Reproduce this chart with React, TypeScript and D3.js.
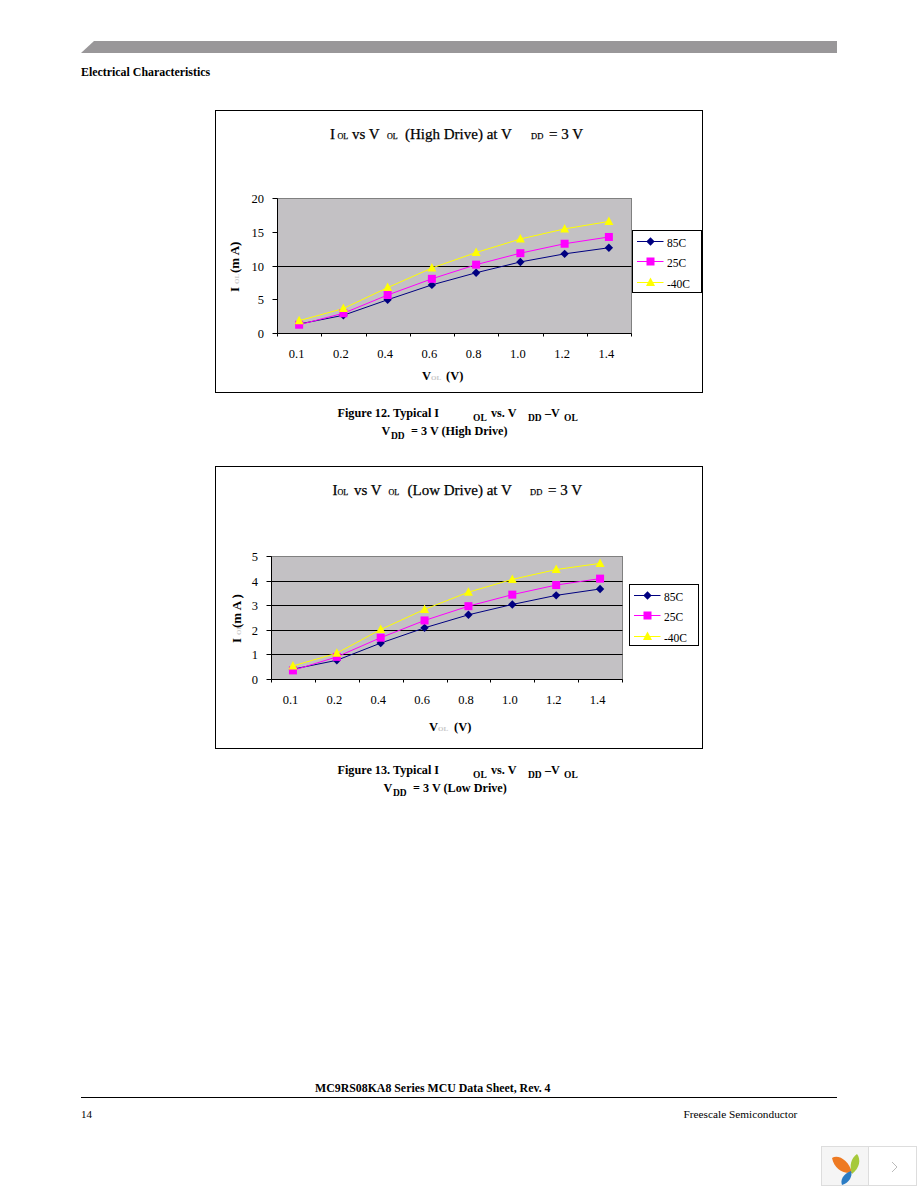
import React from "react";
import * as d3 from "d3";

const categories = ["0.1", "0.2", "0.4", "0.6", "0.8", "1.0", "1.2", "1.4"];
const seriesNames = ["85C", "25C", "-40C"];
const high85 = [1.4, 2.7, 5.0, 7.2, 9.0, 10.6, 11.8, 12.7];
const high25 = [1.3, 3.0, 5.7, 8.1, 10.2, 11.9, 13.3, 14.3];
const highM40 = [1.9, 3.7, 6.8, 9.7, 12.0, 14.0, 15.5, 16.6];
const low85 = [0.42, 0.78, 1.48, 2.1, 2.63, 3.05, 3.42, 3.68];
const low25 = [0.37, 0.92, 1.7, 2.4, 2.98, 3.45, 3.84, 4.1];
const lowM40 = [0.55, 1.07, 2.03, 2.85, 3.55, 4.07, 4.47, 4.72];
const highTicks = [0, 5, 10, 15, 20];
const highGrid = [10];
const lowTicks = [0, 1, 2, 3, 4, 5];
const lowGrid = [1, 2, 3, 4];

const SERIF = "'Liberation Serif', serif";
const colors = ["#000080", "#FF00FF", "#FFFF00"];
type Piece = [string, number, number, number, boolean?, number?];

function T({ p, color }: { p: Piece; color?: string }) {
  return (
    <text x={p[1]} y={p[2]} fontSize={p[3]} fontWeight={p[4] ? "bold" : "normal"} fontFamily={SERIF} fill={color || "#000"} stroke={p[5] ? "#000" : "none"} strokeWidth={p[5] || 0}>
      {p[0]}
    </text>
  );
}

function Marker({ i, x, y }: { i: number; x: number; y: number }) {
  const c = colors[i];
  if (i === 0) return <path d={`M${x} ${y - 4.2}L${x + 4.2} ${y}L${x} ${y + 4.2}L${x - 4.2} ${y}Z`} fill={c} />;
  if (i === 1) return <rect x={x - 4} y={y - 4} width={8} height={8} fill={c} />;
  return <path d={`M${x} ${y - 5}L${x + 4.5} ${y + 3.5}L${x - 4.5} ${y + 3.5}Z`} fill={c} />;
}

type ChartProps = {
  frame: [number, number, number, number];
  plot: [number, number, number, number];
  legend: [number, number, number, number];
  domainMax: number;
  ticks: number[];
  grid: number[];
  series: number[][];
  titlePieces: Piece[];
  xLabel: Piece[];
  xFaint: Piece;
  yLabelX: number;
  yI: number;
  yFaint: number;
  yRest: number;
  yRestText: string;
  tickBase: number;
};

function Chart(props: ChartProps) {
  const { frame, plot, legend, domainMax, ticks, grid, series, titlePieces, xLabel, xFaint, yLabelX, yI, yFaint, yRest, yRestText, tickBase } = props;
  const [px0, py0, px1, py1] = plot;
  const x = d3.scaleBand<string>().domain(categories).range([px0, px1]).padding(0);
  const y = d3.scaleLinear().domain([0, domainMax]).range([py1, py0]);
  const snap = (v: number) => Math.floor(v) + 0.5;
  const bw = x.bandwidth();
  const line = d3
    .line<number>()
    .x((_, i) => (x(categories[i]) as number) + bw / 2 - 0.5)
    .y((d) => y(d));
  const edges = d3.range(categories.length + 1).map((i) => snap(px0 + i * bw));
  const [lx0, ly0, lx1, ly1] = legend;
  return (
    <g>
      <rect x={frame[0]} y={frame[1]} width={frame[2] - frame[0]} height={frame[3] - frame[1]} fill="#fff" stroke="#000" strokeWidth={1} />
      {titlePieces.map((p, i) => <T key={i} p={p} />)}
      <rect x={px0} y={py0} width={px1 - px0} height={py1 - py0} fill="#C3C1C4" stroke="#808080" strokeWidth={1} />
      {grid.map((g) => <line key={g} x1={px0} x2={px1} y1={snap(y(g))} y2={snap(y(g))} stroke="#000" />)}
      <line x1={px0} x2={px0} y1={py0} y2={py1} stroke="#000" />
      <line x1={px0} x2={px1} y1={py1} y2={py1} stroke="#000" />
      {ticks.map((t) => (
        <g key={t}>
          <line x1={px0 - 5} x2={px0} y1={snap(y(t))} y2={snap(y(t))} stroke="#000" />
          <text x={px0 - 13.5} y={y(t) + 4.5} textAnchor="end" fontSize={12.5} fontFamily={SERIF} fill="#000">{t}</text>
        </g>
      ))}
      {edges.map((e, i) => <line key={i} x1={e} x2={e} y1={py1} y2={py1 + 3} stroke="#000" />)}
      {categories.map((c) => (
        <text key={c} x={(x(c) as number) + bw / 2 - 3} y={tickBase} textAnchor="middle" fontSize={12.5} fontFamily={SERIF} fill="#000">{c}</text>
      ))}
      {series.map((s, i) => (
        <path key={i} d={line(s) as string} fill="none" stroke={colors[i]} strokeWidth={1} />
      ))}
      {series.map((s, i) =>
        s.map((v, j) => <Marker key={`${i}-${j}`} i={i} x={(x(categories[j]) as number) + bw / 2 - 0.5} y={y(v)} />)
      )}
      <rect x={lx0} y={ly0} width={lx1 - lx0} height={ly1 - ly0} fill="#fff" stroke="#000" strokeWidth={1} />
      {seriesNames.map((n, i) => {
        const cy = Math.floor(ly0 + 11 + i * 20.3) + 0.5;
        return (
          <g key={n}>
            <line x1={lx0 + 4.5} x2={lx0 + 31} y1={cy} y2={cy} stroke={colors[i]} />
            <Marker i={i} x={lx0 + 18} y={cy} />
            <text x={lx0 + 34.5} y={cy + 5.5} fontSize={11.5} fontFamily={SERIF} fill="#000">{n}</text>
          </g>
        );
      })}
      {xLabel.map((p, i) => <T key={i} p={p} />)}
      <T p={xFaint} color="#c8c8c8" />
      <text transform={`translate(${yLabelX},${yI}) rotate(-90)`} fontSize={13} fontWeight="bold" fontFamily={SERIF}>I</text>
      <text transform={`translate(${yLabelX},${yFaint}) rotate(-90)`} fontSize={7} fontWeight="bold" fontFamily={SERIF} fill="#c8c8c8">OL</text>
      <text transform={`translate(${yLabelX},${yRest}) rotate(-90)`} fontSize={13} fontWeight="bold" fontFamily={SERIF}>{yRestText}</text>
    </g>
  );
}

const TS = 15;
const TB = 0.25;
const title1: Piece[] = [["I", 330, 139, TS, false, TB], ["OL", 337.5, 139, 8, false, TB], ["vs V", 352, 139, TS, false, TB], ["OL", 387, 139, 8, false, TB], ["(High Drive) at V", 405, 139, TS, false, TB], ["DD", 531, 139, 8.5, false, TB], ["= 3 V", 549, 139, TS, false, TB]];
const title2: Piece[] = [["I", 332.5, 495, TS, false, TB], ["OL", 337.5, 495, 8, false, TB], ["vs V", 354, 495, TS, false, TB], ["OL", 388.5, 495, 8, false, TB], ["(Low Drive) at V", 407.5, 495, TS, false, TB], ["DD", 530, 495, 8.5, false, TB], ["= 3 V", 548, 495, TS, false, TB]];
const xl1: Piece[] = [["V", 422, 380, 12.5, true], ["(V)", 446, 380, 12.5, true]];
const xl2: Piece[] = [["V", 429, 731, 12.5, true], ["(V)", 454, 731, 12.5, true]];
const cap1: Piece[] = [["Figure 12. Typical I", 337.5, 417, 12.2, true], ["OL", 473, 421, 9.5, true], ["vs. V", 491, 417, 12.2, true], ["DD", 528, 421, 9.5, true], ["\u2013V", 545, 417, 12.2, true], ["OL", 564, 421, 9.5, true], ["V", 381.5, 435, 12.2, true], ["DD", 391, 439, 9.5, true], ["= 3 V (High Drive)", 411, 435, 12.2, true]];
const cap2: Piece[] = [["Figure 13. Typical I", 337.5, 774, 12.2, true], ["OL", 473, 778, 9.5, true], ["vs. V", 491, 774, 12.2, true], ["DD", 528, 778, 9.5, true], ["\u2013V", 545, 774, 12.2, true], ["OL", 564, 778, 9.5, true], ["V", 383.5, 792, 12.2, true], ["DD", 393, 796, 9.5, true], ["= 3 V (Low Drive)", 413, 792, 12.2, true]];

export default function App() {
  return (
    <svg width={918} height={1188} style={{ position: "absolute", left: 0, top: 0, background: "#fff" }}>
      <path d="M81 53L94 41H837V53Z" fill="#999799" />
      <text x={81} y={76} fontSize={11.9} fontWeight="bold" fontFamily={SERIF}>Electrical Characteristics</text>
      <Chart frame={[215.5, 110.5, 702.5, 392.5]} plot={[277.5, 198.5, 631.5, 333.5]} legend={[632.5, 230.5, 701.5, 292.5]}
        domainMax={20} ticks={highTicks} grid={highGrid} series={[high85, high25, highM40]} titlePieces={title1}
        xLabel={xl1} xFaint={["OL", 431, 380, 7, true]} yLabelX={239} yI={292} yFaint={284} yRest={273} yRestText="(m A)" tickBase={357.5} />
      {cap1.map((p, i) => <T key={i} p={p} />)}
      <Chart frame={[215.5, 466.5, 702.5, 748.5]} plot={[271.5, 556.5, 622.5, 679.5]} legend={[629.5, 584.5, 698.5, 645.5]}
        domainMax={5} ticks={lowTicks} grid={lowGrid} series={[low85, low25, lowM40]} titlePieces={title2}
        xLabel={xl2} xFaint={["OL", 438, 731, 7, true]} yLabelX={241} yI={643} yFaint={635} yRest={628} yRestText="(m A )" tickBase={704} />
      {cap2.map((p, i) => <T key={i} p={p} />)}
      <text x={315} y={1092} fontSize={11.85} fontWeight="bold" fontFamily={SERIF}>MC9RS08KA8 Series MCU Data Sheet, Rev. 4</text>
      <line x1={81} x2={837} y1={1097.5} y2={1097.5} stroke="#000" />
      <text x={81} y={1118} fontSize={11} fontFamily={SERIF}>14</text>
      <text x={683.5} y={1118} fontSize={11.3} fontFamily={SERIF}>Freescale Semiconductor</text>
      <rect x={821.5} y={1146.5} width={95} height={39} fill="#fff" stroke="#ddd" />
      <rect x={822} y={1147} width={46} height={38} fill="#f5f5f5" />
      <line x1={868.5} x2={868.5} y1={1146} y2={1186} stroke="#ddd" />
      <path d="M832 1158C838 1154 849 1160 852 1173C842 1174 834 1168 832 1158Z" fill="#EE7A22" />
      <path d="M857 1154C861 1159 860 1168 852 1174C849 1166 851 1158 857 1154Z" fill="#A6C93A" />
      <path d="M851 1171C853 1176 849 1183 842 1185C840 1180 843 1174 851 1171Z" fill="#2B7CC4" />
      <path d="M892 1162L897 1167L892 1172" fill="none" stroke="#bbb" />
    </svg>
  );
}
